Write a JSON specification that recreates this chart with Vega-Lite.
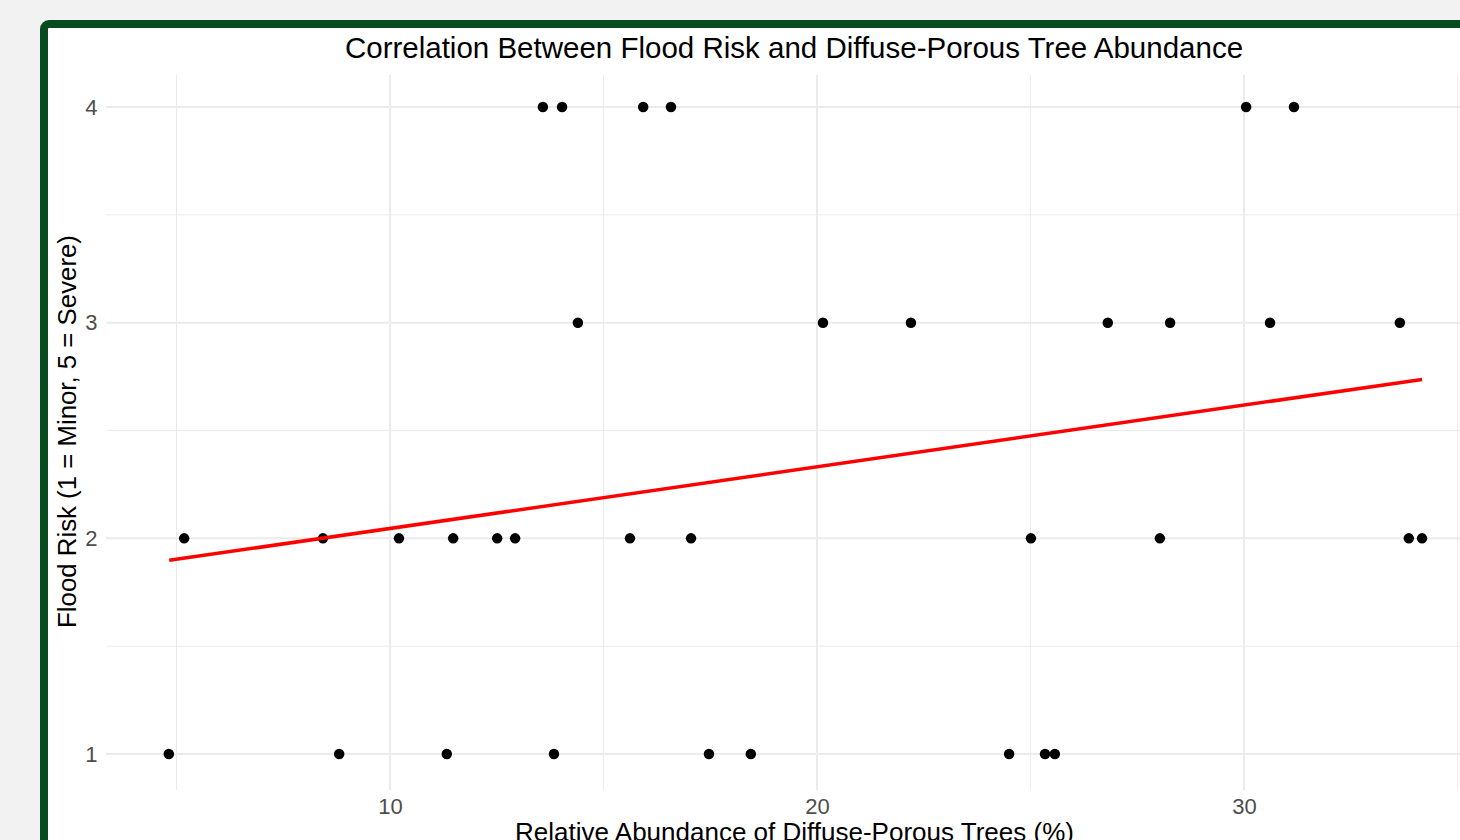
{
  "$schema": "https://vega.github.io/schema/vega-lite/v6.json",
  "width": 1500,
  "height": 900,
  "autosize": {"type": "none"},
  "padding": {"left": 44, "top": 24, "right": -84, "bottom": -84},
  "background": "#f2f2f2",
  "title": {
    "text": "Correlation Between Flood Risk and Diffuse-Porous Tree Abundance",
    "frame": "group",
    "anchor": "middle",
    "offset": -32,
    "dy": 31,
    "baseline": "alphabetic",
    "font": "Liberation Sans",
    "fontSize": 29.5,
    "fontWeight": "normal",
    "color": "#000000"
  },
  "datasets": {
    "points": [
      {"abundance": 13.58, "risk": 4}, {"abundance": 14.03, "risk": 4}, {"abundance": 15.93, "risk": 4},
      {"abundance": 16.58, "risk": 4}, {"abundance": 30.05, "risk": 4}, {"abundance": 31.17, "risk": 4},
      {"abundance": 14.40, "risk": 3}, {"abundance": 20.14, "risk": 3}, {"abundance": 22.20, "risk": 3},
      {"abundance": 26.81, "risk": 3}, {"abundance": 28.27, "risk": 3}, {"abundance": 30.61, "risk": 3},
      {"abundance": 33.65, "risk": 3},
      {"abundance": 5.18, "risk": 2}, {"abundance": 8.43, "risk": 2}, {"abundance": 10.21, "risk": 2},
      {"abundance": 11.48, "risk": 2}, {"abundance": 12.51, "risk": 2}, {"abundance": 12.93, "risk": 2},
      {"abundance": 15.62, "risk": 2}, {"abundance": 17.05, "risk": 2}, {"abundance": 25.01, "risk": 2},
      {"abundance": 28.03, "risk": 2}, {"abundance": 33.86, "risk": 2}, {"abundance": 34.17, "risk": 2},
      {"abundance": 4.82, "risk": 1}, {"abundance": 8.81, "risk": 1}, {"abundance": 11.33, "risk": 1},
      {"abundance": 13.84, "risk": 1}, {"abundance": 17.47, "risk": 1}, {"abundance": 18.45, "risk": 1},
      {"abundance": 24.50, "risk": 1}, {"abundance": 25.34, "risk": 1}, {"abundance": 25.57, "risk": 1}
    ],
    "fit": [
      {"abundance": 4.83, "risk": 1.898},
      {"abundance": 34.17, "risk": 2.737}
    ],
    "xmajor": [{"abundance": 10}, {"abundance": 20}, {"abundance": 30}],
    "xminor": [{"abundance": 5}, {"abundance": 15}, {"abundance": 25}, {"abundance": 35}],
    "ymajor": [{"risk": 1}, {"risk": 2}, {"risk": 3}, {"risk": 4}],
    "yminor": [{"risk": 1.5}, {"risk": 2.5}, {"risk": 3.5}]
  },
  "layer": [
    {
      "data": {"name": "xminor"},
      "mark": {"type": "rule", "color": "#ebebeb", "strokeWidth": 1},
      "encoding": {
        "x": {"field": "abundance", "type": "quantitative", "scale": {"domain": [1.897, 37.026], "nice": false, "zero": false},
          "axis": {"values": [10, 20, 30], "orient": "bottom", "offset": -134, "domain": false, "ticks": false, "tickSize": 0, "grid": false, "labelPadding": 6, "labelFontSize": 22, "labelColor": "#4d4d4d", "labelFont": "Liberation Sans", "title": "Relative Abundance of Diffuse-Porous Trees (%)", "titleFont": "Liberation Sans", "titleFontSize": 26, "titleFontWeight": "normal", "titleColor": "#000000", "titlePadding": 2}},
        "y": {"datum": 0.833, "type": "quantitative", "scale": {"domain": [0.2118, 4.385], "nice": false, "zero": false},
          "axis": {"values": [1, 2, 3, 4], "orient": "left", "offset": -62, "domain": false, "ticks": false, "tickSize": 0, "grid": false, "labelPadding": 9, "labelFontSize": 22, "labelColor": "#4d4d4d", "labelFont": "Liberation Sans", "title": "Flood Risk (1 = Minor, 5 = Severe)", "titleFont": "Liberation Sans", "titleFontSize": 25.8, "titleFontWeight": "normal", "titleColor": "#000000", "titlePadding": 4, "titleY": 407}},
        "y2": {"datum": 4.15}
      }
    },
    {
      "data": {"name": "xmajor"},
      "mark": {"type": "rule", "color": "#ebebeb", "strokeWidth": 2},
      "encoding": {
        "x": {"field": "abundance", "type": "quantitative", "scale": {"domain": [1.897, 37.026], "nice": false, "zero": false},
          "axis": {"values": [10, 20, 30], "orient": "bottom", "offset": -134, "domain": false, "ticks": false, "tickSize": 0, "grid": false, "labelPadding": 6, "labelFontSize": 22, "labelColor": "#4d4d4d", "labelFont": "Liberation Sans", "title": "Relative Abundance of Diffuse-Porous Trees (%)", "titleFont": "Liberation Sans", "titleFontSize": 26, "titleFontWeight": "normal", "titleColor": "#000000", "titlePadding": 2}},
        "y": {"datum": 0.833, "type": "quantitative", "scale": {"domain": [0.2118, 4.385], "nice": false, "zero": false},
          "axis": {"values": [1, 2, 3, 4], "orient": "left", "offset": -62, "domain": false, "ticks": false, "tickSize": 0, "grid": false, "labelPadding": 9, "labelFontSize": 22, "labelColor": "#4d4d4d", "labelFont": "Liberation Sans", "title": "Flood Risk (1 = Minor, 5 = Severe)", "titleFont": "Liberation Sans", "titleFontSize": 25.8, "titleFontWeight": "normal", "titleColor": "#000000", "titlePadding": 4, "titleY": 407}},
        "y2": {"datum": 4.15}
      }
    },
    {
      "data": {"name": "yminor"},
      "mark": {"type": "rule", "color": "#ebebeb", "strokeWidth": 1},
      "encoding": {
        "y": {"field": "risk", "type": "quantitative", "scale": {"domain": [0.2118, 4.385], "nice": false, "zero": false},
          "axis": {"values": [1, 2, 3, 4], "orient": "left", "offset": -62, "domain": false, "ticks": false, "tickSize": 0, "grid": false, "labelPadding": 9, "labelFontSize": 22, "labelColor": "#4d4d4d", "labelFont": "Liberation Sans", "title": "Flood Risk (1 = Minor, 5 = Severe)", "titleFont": "Liberation Sans", "titleFontSize": 25.8, "titleFontWeight": "normal", "titleColor": "#000000", "titlePadding": 4, "titleY": 407}},
        "x": {"datum": 3.35, "type": "quantitative", "scale": {"domain": [1.897, 37.026], "nice": false, "zero": false},
          "axis": {"values": [10, 20, 30], "orient": "bottom", "offset": -134, "domain": false, "ticks": false, "tickSize": 0, "grid": false, "labelPadding": 6, "labelFontSize": 22, "labelColor": "#4d4d4d", "labelFont": "Liberation Sans", "title": "Relative Abundance of Diffuse-Porous Trees (%)", "titleFont": "Liberation Sans", "titleFontSize": 26, "titleFontWeight": "normal", "titleColor": "#000000", "titlePadding": 2}},
        "x2": {"datum": 35.64}
      }
    },
    {
      "data": {"name": "ymajor"},
      "mark": {"type": "rule", "color": "#ebebeb", "strokeWidth": 2},
      "encoding": {
        "y": {"field": "risk", "type": "quantitative", "scale": {"domain": [0.2118, 4.385], "nice": false, "zero": false},
          "axis": {"values": [1, 2, 3, 4], "orient": "left", "offset": -62, "domain": false, "ticks": false, "tickSize": 0, "grid": false, "labelPadding": 9, "labelFontSize": 22, "labelColor": "#4d4d4d", "labelFont": "Liberation Sans", "title": "Flood Risk (1 = Minor, 5 = Severe)", "titleFont": "Liberation Sans", "titleFontSize": 25.8, "titleFontWeight": "normal", "titleColor": "#000000", "titlePadding": 4, "titleY": 407}},
        "x": {"datum": 3.35, "type": "quantitative", "scale": {"domain": [1.897, 37.026], "nice": false, "zero": false},
          "axis": {"values": [10, 20, 30], "orient": "bottom", "offset": -134, "domain": false, "ticks": false, "tickSize": 0, "grid": false, "labelPadding": 6, "labelFontSize": 22, "labelColor": "#4d4d4d", "labelFont": "Liberation Sans", "title": "Relative Abundance of Diffuse-Porous Trees (%)", "titleFont": "Liberation Sans", "titleFontSize": 26, "titleFontWeight": "normal", "titleColor": "#000000", "titlePadding": 2}},
        "x2": {"datum": 35.64}
      }
    },
    {
      "data": {"name": "points"},
      "mark": {"type": "circle", "size": 110, "color": "#000000", "opacity": 1},
      "encoding": {
        "x": {"field": "abundance", "type": "quantitative", "scale": {"domain": [1.897, 37.026], "nice": false, "zero": false},
          "axis": {"values": [10, 20, 30], "orient": "bottom", "offset": -134, "domain": false, "ticks": false, "tickSize": 0, "grid": false, "labelPadding": 6, "labelFontSize": 22, "labelColor": "#4d4d4d", "labelFont": "Liberation Sans", "title": "Relative Abundance of Diffuse-Porous Trees (%)", "titleFont": "Liberation Sans", "titleFontSize": 26, "titleFontWeight": "normal", "titleColor": "#000000", "titlePadding": 2}},
        "y": {"field": "risk", "type": "quantitative", "scale": {"domain": [0.2118, 4.385], "nice": false, "zero": false},
          "axis": {"values": [1, 2, 3, 4], "orient": "left", "offset": -62, "domain": false, "ticks": false, "tickSize": 0, "grid": false, "labelPadding": 9, "labelFontSize": 22, "labelColor": "#4d4d4d", "labelFont": "Liberation Sans", "title": "Flood Risk (1 = Minor, 5 = Severe)", "titleFont": "Liberation Sans", "titleFontSize": 25.8, "titleFontWeight": "normal", "titleColor": "#000000", "titlePadding": 4, "titleY": 407}}
      }
    },
    {
      "data": {"name": "fit"},
      "mark": {"type": "line", "color": "#ff0000", "strokeWidth": 3.5},
      "encoding": {
        "x": {"field": "abundance", "type": "quantitative", "scale": {"domain": [1.897, 37.026], "nice": false, "zero": false},
          "axis": {"values": [10, 20, 30], "orient": "bottom", "offset": -134, "domain": false, "ticks": false, "tickSize": 0, "grid": false, "labelPadding": 6, "labelFontSize": 22, "labelColor": "#4d4d4d", "labelFont": "Liberation Sans", "title": "Relative Abundance of Diffuse-Porous Trees (%)", "titleFont": "Liberation Sans", "titleFontSize": 26, "titleFontWeight": "normal", "titleColor": "#000000", "titlePadding": 2}},
        "y": {"field": "risk", "type": "quantitative", "scale": {"domain": [0.2118, 4.385], "nice": false, "zero": false},
          "axis": {"values": [1, 2, 3, 4], "orient": "left", "offset": -62, "domain": false, "ticks": false, "tickSize": 0, "grid": false, "labelPadding": 9, "labelFontSize": 22, "labelColor": "#4d4d4d", "labelFont": "Liberation Sans", "title": "Flood Risk (1 = Minor, 5 = Severe)", "titleFont": "Liberation Sans", "titleFontSize": 25.8, "titleFontWeight": "normal", "titleColor": "#000000", "titlePadding": 4, "titleY": 407}}
      }
    }
  ],
  "config": {
    "font": "Liberation Sans",
    "view": {"fill": "#ffffff", "stroke": "#0a4a1f", "strokeWidth": 8, "cornerRadius": 5}
  }
}
